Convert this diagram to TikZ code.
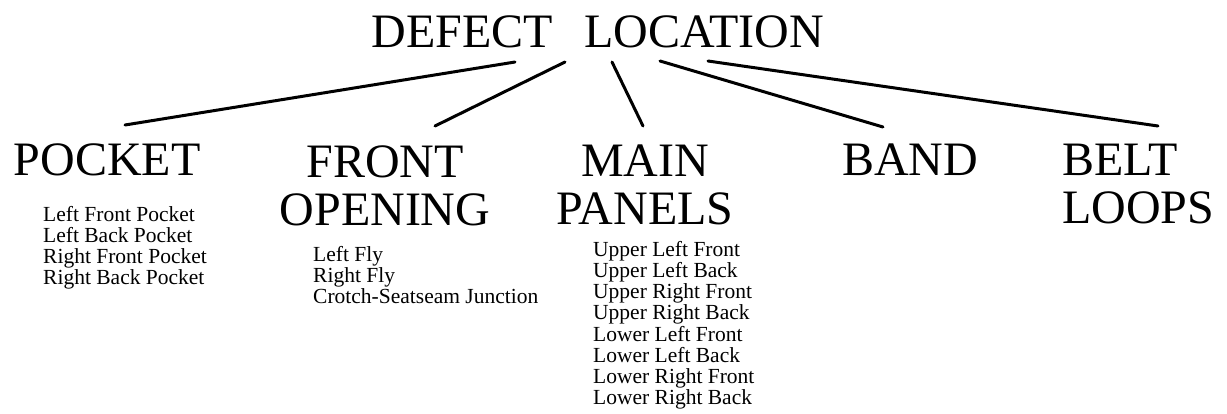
\documentclass[tikz,border=0pt]{standalone}
\usepackage{fontspec}
\setmainfont{Liberation Serif}
\usepackage{array}
\begin{document}
\begin{tikzpicture}[x=1pt,y=-1pt,
  title/.style={inner sep=0pt, anchor=base, font=\fontsize{48}{48}\selectfont},
  head/.style={inner sep=0pt, anchor=base, font=\fontsize{48}{48}\selectfont},
  items/.style={inner sep=0pt, anchor=base west, font=\fontsize{21.5}{20.5}\selectfont},
  branch/.style={line width=3pt, line cap=round}]
\useasboundingbox (0,0) rectangle (1227,413);

\node[title] (root) at (598,47) {DEFECT\hspace{31pt}LOCATION};

\node[head] (pocket) at (107,175) {POCKET};
\node[head] (front) at (385,177) {\begin{tabular}[t]{@{}c@{}}FRONT\\OPENING\end{tabular}};
\node[head] (main) at (645,176) {\begin{tabular}[t]{@{}c@{}}MAIN\\PANELS\end{tabular}};
\node[head] (band) at (910,175) {BAND};
\node[head, anchor=base west] (belt) at (1062,175) {\begin{tabular}[t]{@{}l@{}}BELT\\LOOPS\end{tabular}};

\node[items] (pocketlist) at (43,221) {\begin{tabular}[t]{@{}l@{}}Left Front Pocket\\Left Back Pocket\\Right Front Pocket\\Right Back Pocket\end{tabular}};
\node[items, font=\fontsize{21.5}{21}\selectfont] (frontlist) at (313,261) {\begin{tabular}[t]{@{}l@{}}Left Fly\\Right Fly\\Crotch-Seatseam Junction\end{tabular}};
\node[items, font=\fontsize{21.5}{20.8}\selectfont] (mainlist) at (593,256) {\begin{tabular}[t]{@{}l@{}}Upper Left Front\\Upper Left Back\\Upper Right Front\\Upper Right Back\\Lower Left Front\\Lower Left Back\\Lower Right Front\\Lower Right Back\end{tabular}};

\coordinate (r1) at (515,62);
\coordinate (r2) at (565,62);
\coordinate (r3) at (612,62);
\coordinate (r4) at (660,61);
\coordinate (r5) at (708,61);
\coordinate (p1) at (125,125);
\coordinate (p2) at (435,126);
\coordinate (p3) at (643,126);
\coordinate (p4) at (883,127);
\coordinate (p5) at (1158,126);

\draw[branch] (r1) -- (p1);
\draw[branch] (r2) -- (p2);
\draw[branch] (r3) -- (p3);
\draw[branch] (r4) -- (p4);
\draw[branch] (r5) -- (p5);
\end{tikzpicture}
\end{document}
